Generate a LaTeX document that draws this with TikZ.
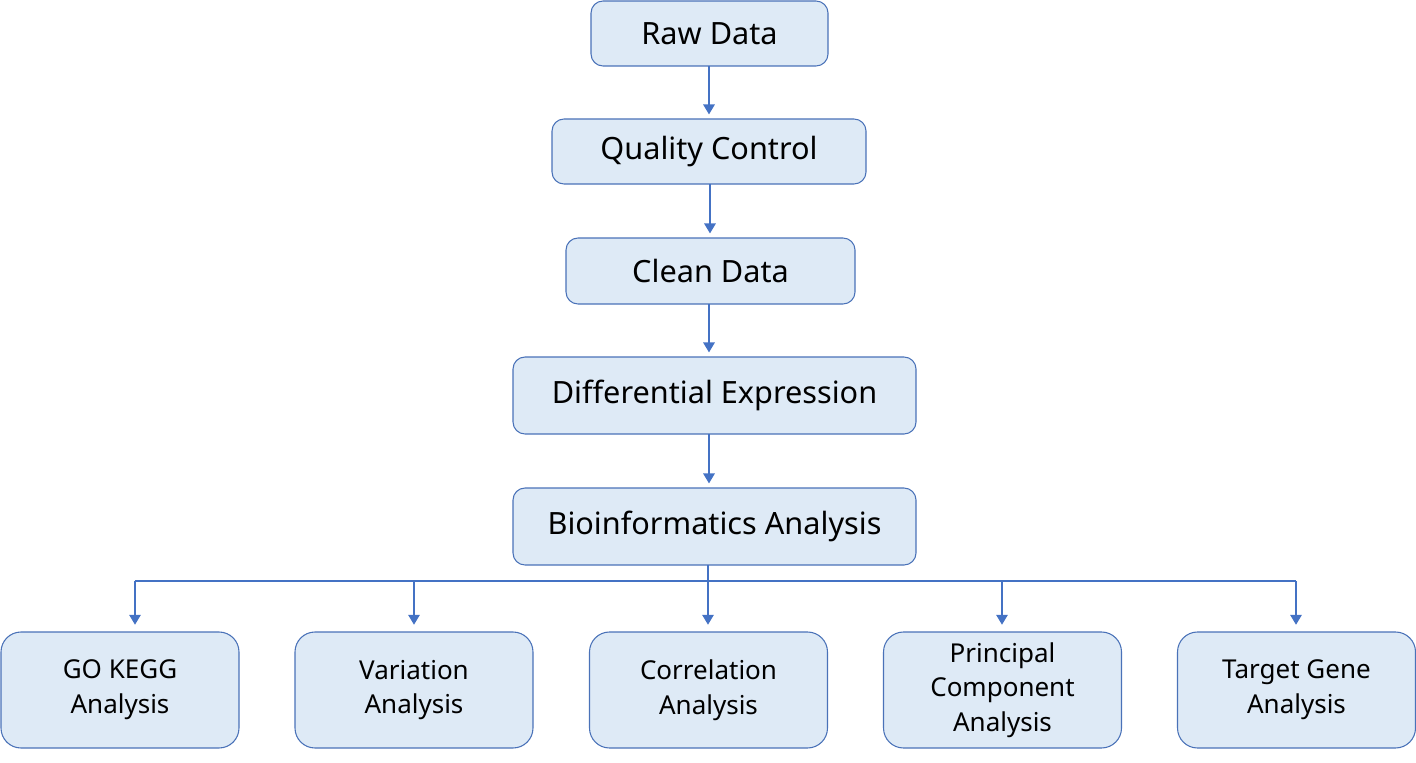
\documentclass[tikz,border=0pt]{standalone}
\usepackage{fontspec}
\setmainfont{Noto Sans}
\usetikzlibrary{arrows.meta}
\definecolor{boxfill}{HTML}{DEEAF6}
\definecolor{boxline}{HTML}{4A72B8}
\definecolor{arrowcol}{HTML}{4472C4}
\begin{document}
\begin{tikzpicture}[x=0.75pt,y=-0.75pt,
  topbox/.style={draw=boxline, line width=0.8pt, fill=boxfill, rounded corners=9pt,
    inner sep=0pt, align=center, font=\fontsize{23}{27}\selectfont},
  botbox/.style={draw=boxline, line width=0.8pt, fill=boxfill, rounded corners=15pt,
    inner sep=0pt, align=center, minimum width=178.5pt, minimum height=87pt,
    font=\fontsize{19.5}{26}\selectfont},
  conn/.style={draw=arrowcol, line width=1.5pt},
  arr/.style={conn, -{Triangle[width=8.5pt,length=7.5pt]}, shorten >=3pt},
  barr/.style={conn, -{Triangle[width=8.5pt,length=7.5pt]}, shorten >=5pt}]
\useasboundingbox (0,0) rectangle (1416,763);

\node[topbox, minimum width=177.75pt, minimum height=48.75pt] (raw) at (709.5,33.5) {Raw Data};
\node[topbox, minimum width=235.5pt, minimum height=48.75pt] (qc) at (709,151.5) {Quality Control};
\node[topbox, minimum width=216.75pt, minimum height=49.5pt] (clean) at (710.5,271) {Clean Data};
\node[topbox, minimum width=302.25pt, minimum height=57.75pt] (diff) at (714.5,395.5) {Differential Expression};
\node[topbox, minimum width=302.25pt, minimum height=57.75pt] (bio) at (714.5,526.5) {Bioinformatics Analysis};

\node[botbox] (go) at (120,690) {GO KEGG\\Analysis};
\node[botbox] (var) at (414,690) {Variation\\Analysis};
\node[botbox] (cor) at (708.5,690) {Correlation\\Analysis};
\node[botbox] (pca) at (1002.5,690) {Principal\\Component\\Analysis};
\node[botbox] (tga) at (1296.5,690) {Target Gene\\Analysis};

\coordinate (a1) at (709,66);
\coordinate (a2) at (710,184);
\coordinate (a3) at (709,304);
\coordinate (a4) at (709,434);
\coordinate (a5) at (708,565);
\coordinate (bar) at (708,581);
\coordinate (d1) at (135,581);
\coordinate (d2) at (414,581);
\coordinate (d3) at (708,581);
\coordinate (d4) at (1002,581);
\coordinate (d5) at (1296,581);

\draw[arr] (a1) -- (a1 |- qc.north);
\draw[arr] (a2) -- (a2 |- clean.north);
\draw[arr] (a3) -- (a3 |- diff.north);
\draw[arr] (a4) -- (a4 |- bio.north);
\draw[conn] (a5) -- (bar);
\draw[conn] (d1) -- (d5);
\draw[barr] (d1) -- (d1 |- go.north);
\draw[barr] (d2) -- (d2 |- var.north);
\draw[barr] (d3) -- (d3 |- cor.north);
\draw[barr] (d4) -- (d4 |- pca.north);
\draw[barr] (d5) -- (d5 |- tga.north);
\end{tikzpicture}
\end{document}
